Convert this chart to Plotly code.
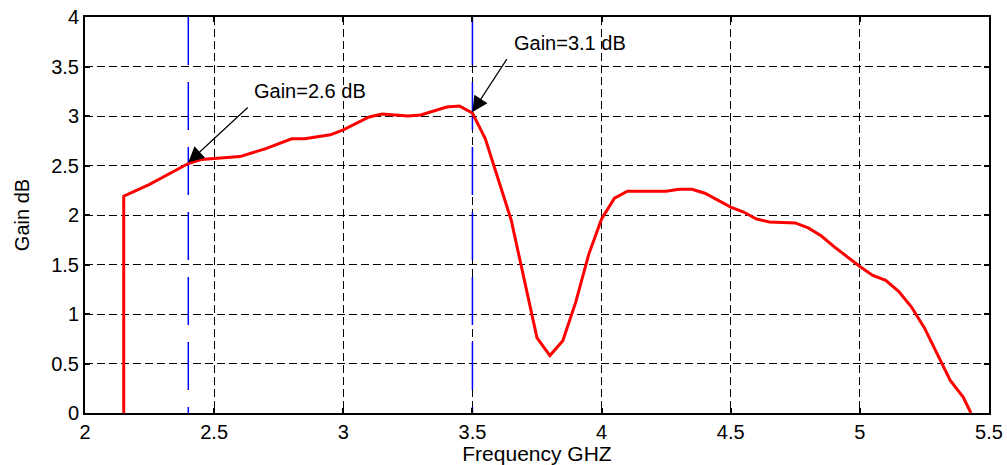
import plotly.graph_objects as go

# Data
freq = [2.15, 2.15, 2.25, 2.40, 2.45, 2.60, 2.70, 2.80, 2.85, 2.95, 3.00, 3.10, 3.15,
        3.25, 3.30, 3.40, 3.45, 3.50, 3.55, 3.65, 3.75, 3.80, 3.85, 3.90, 3.95, 4.00,
        4.05, 4.10, 4.25, 4.30, 4.35, 4.40, 4.45, 4.50, 4.55, 4.60, 4.65, 4.75, 4.80,
        4.85, 4.90, 4.95, 5.00, 5.05, 5.10, 5.15, 5.20, 5.25, 5.30, 5.35, 5.40, 5.43]
gain = [0.00, 2.19, 2.31, 2.52, 2.56, 2.59, 2.67, 2.77, 2.77, 2.81, 2.86, 2.99, 3.02,
        3.00, 3.01, 3.09, 3.10, 3.03, 2.77, 1.95, 0.76, 0.58, 0.73, 1.12, 1.60, 1.96,
        2.17, 2.24, 2.24, 2.26, 2.26, 2.22, 2.15, 2.08, 2.03, 1.96, 1.93, 1.92, 1.87,
        1.79, 1.68, 1.58, 1.48, 1.39, 1.34, 1.23, 1.07, 0.86, 0.59, 0.33, 0.16, 0.00]

marker_freqs = [2.4, 3.5]
marker_gains = [2.53, 3.04]
marker_texts = ["Gain=2.6 dB", "Gain=3.1 dB"]
# text anchor (data coords) and arrow tail (data coords)
text_pos = [(2.645, 3.25), (3.655, 3.74)]
tail_pos = [(2.636, 3.10), (3.637, 3.59)]

x_ticks = [2, 2.5, 3, 3.5, 4, 4.5, 5, 5.5]
x_tick_labels = ["2", "2.5", "3", "3.5", "4", "4.5", "5", "5.5"]
y_ticks = [0, 0.5, 1, 1.5, 2, 2.5, 3, 3.5, 4]
y_tick_labels = ["0", "0.5", "1", "1.5", "2", "2.5", "3", "3.5", "4"]

FONT = "Liberation Sans, Arial, sans-serif"
FS = 20

fig = go.Figure()

for f in marker_freqs:
    fig.add_trace(go.Scatter(
        x=[f, f], y=[y_ticks[-1], y_ticks[0]], mode="lines",
        line=dict(color="#0000ff", width=1.5, dash="48px,17px"),
        hoverinfo="skip", showlegend=False))

fig.add_trace(go.Scatter(
    x=freq, y=gain, mode="lines",
    line=dict(color="#ff0000", width=3),
    showlegend=False))

for (tx, ty), (ax_, ay_), f, g, t in zip(text_pos, tail_pos, marker_freqs, marker_gains, marker_texts):
    fig.add_annotation(x=tx, y=ty, text=t, showarrow=False, xanchor="left",
                       yanchor="middle", font=dict(family=FONT, size=FS, color="black"))
    fig.add_annotation(x=f, y=g, ax=ax_, ay=ay_, axref="x", ayref="y", text="",
                       showarrow=True, arrowhead=2, arrowsize=2.6, arrowwidth=1.2,
                       arrowcolor="black", standoff=0)

axis_common = dict(
    showline=True, linecolor="black", linewidth=2, mirror="ticks",
    ticks="inside", ticklen=5, tickwidth=2, tickcolor="black",
    showgrid=True, gridcolor="black", gridwidth=1.4, griddash="8px,4px",
    zeroline=False, automargin=False,
    tickfont=dict(family=FONT, size=FS, color="black"),
)

fig.update_xaxes(range=[2, 5.5], tickvals=x_ticks, ticktext=x_tick_labels,
                 title=dict(text="Frequency GHZ", font=dict(family=FONT, size=21, color="black"),
                            standoff=3),
                 **axis_common)
fig.update_yaxes(range=[0, 4], tickvals=y_ticks, ticktext=y_tick_labels,
                 title=dict(text="Gain dB", font=dict(family=FONT, size=FS, color="black"),
                            standoff=16),
                 **axis_common)

fig.update_layout(
    width=1007, height=465,
    margin=dict(l=85, r=18, t=17, b=52),
    paper_bgcolor="white", plot_bgcolor="white",
    font=dict(family=FONT, size=FS, color="black"),
)

fig.write_html("out.html")
